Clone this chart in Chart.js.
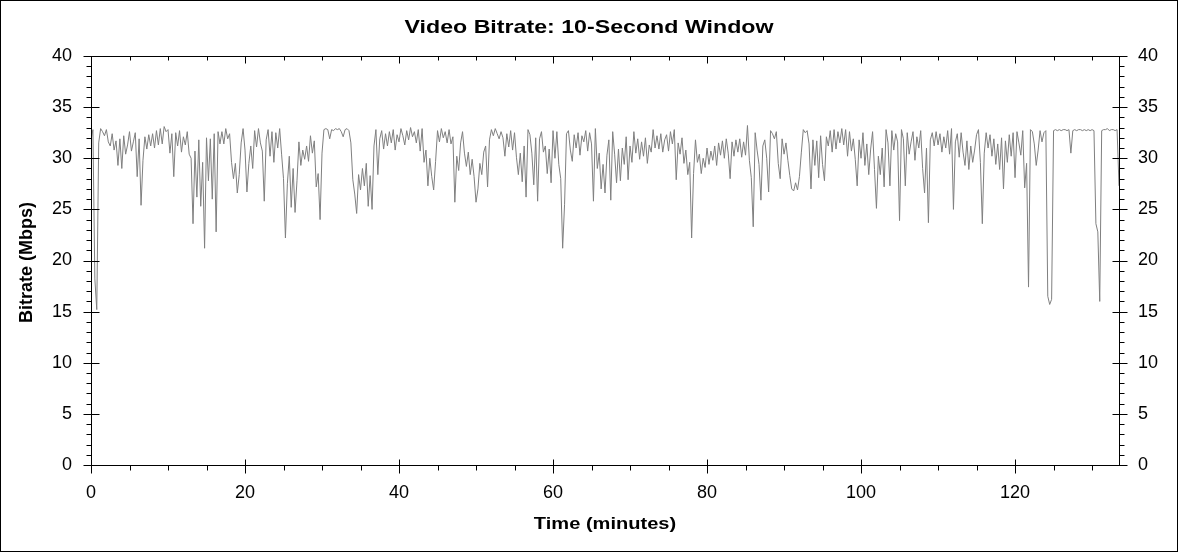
<!DOCTYPE html>
<html>
<head>
<meta charset="utf-8">
<script src="https://cdn.jsdelivr.net/npm/chart.js@4"></script>
<style>
  body { margin: 0; background: #fff; }
  #wrap { width: 1178px; height: 552px; }
</style>
</head>
<body>
<div id="wrap"><canvas id="chart"></canvas></div>
<script>
const chartTitle = "Video Bitrate: 10-Second Window"
const xTitle = "Time (minutes)"
const yTitle = "Bitrate (Mbps)"

// one reading every 0.25 minutes, starting at 0
const stepMinutes = 0.25
const bitrate = [
  31.8, 32.8, 18.2, 15.2,  31.5, 32.9, 32.6, 32.2,  32.8, 31.6, 31.2, 32.4,  30.8, 31.7, 29.3, 31.9,
  29.0, 32.2, 30.4, 31.3,  32.6, 30.7, 31.6, 32.5,  28.2, 31.9, 25.4, 29.8,  32.1, 30.9, 32.3, 31.2,
  32.4, 31.0, 32.7, 31.3,  32.9, 31.4, 33.1, 32.6,  32.8, 30.5, 32.4, 28.2,  32.5, 31.2, 32.7, 30.6,
  32.1, 31.3, 32.6, 30.4,  30.0, 23.6, 30.7, 26.2,  31.8, 25.3, 29.6, 21.2,  32.0, 27.8, 31.9, 26.0,
  32.4, 22.8, 32.6, 31.4,  32.6, 31.4, 32.9, 31.9,  32.4, 29.6, 28.0, 29.5,  26.6, 28.4, 31.5, 32.9,
  30.8, 26.7, 29.5, 31.2,  29.0, 32.7, 31.1, 32.9,  31.5, 30.7, 25.8, 31.8,  32.8, 30.2, 32.6, 29.6,
  32.5, 31.0, 32.9, 30.4,  28.0, 22.2, 27.5, 30.2,  25.2, 29.0, 24.7, 27.8,  31.6, 29.3, 30.8, 29.9,
  31.2, 29.7, 32.2, 30.5,  31.7, 27.2, 28.5, 24.0,  30.5, 32.8, 32.9, 32.8,  31.9, 32.8, 32.7, 32.9,
  32.8, 32.9, 32.6, 32.1,  32.8, 32.9, 32.7, 31.5,  27.9, 26.5, 24.6, 28.4,  26.9, 29.0, 27.3, 29.5,
  25.3, 28.3, 25.0, 31.2,  32.8, 28.4, 31.9, 32.7,  30.9, 32.4, 31.2, 32.6,  31.5, 32.8, 30.8, 32.3,
  31.6, 32.9, 32.2, 31.3,  32.7, 31.8, 33.0, 32.1,  32.6, 31.5, 32.8, 30.7,  32.9, 29.6, 30.8, 27.3,
  30.0, 28.2, 26.9, 29.7,  32.7, 31.6, 32.9, 32.0,  32.6, 31.5, 32.8, 31.4,  32.1, 25.7, 30.2, 28.8,
  31.5, 32.6, 30.5, 29.2,  30.6, 28.4, 29.9, 28.2,  25.7, 27.0, 29.5, 28.4,  30.6, 31.2, 27.2, 31.8,
  32.8, 32.2, 32.9, 32.4,  31.9, 32.6, 32.0, 30.2,  32.4, 31.1, 32.7, 30.8,  32.5, 30.1, 28.4, 30.5,
  27.7, 31.2, 26.2, 32.8,  32.3, 30.5, 27.4, 32.0,  25.8, 31.9, 32.6, 30.6,  31.2, 28.5, 30.9, 27.6,
  32.7, 30.0, 32.6, 29.4,  28.0, 21.2, 25.5, 32.4,  32.7, 30.8, 29.7, 32.3,  31.0, 32.5, 30.3, 32.2,
  31.6, 32.7, 30.7, 32.5,  31.4, 25.8, 32.9, 29.0,  30.5, 27.0, 29.4, 26.6,  30.3, 31.8, 25.9, 32.6,
  30.4, 27.6, 30.9, 27.8,  31.0, 29.4, 32.1, 27.9,  31.2, 29.6, 32.6, 30.5,  31.9, 29.9, 31.6, 30.2,
  32.0, 29.5, 31.3, 30.6,  32.8, 31.0, 32.2, 30.9,  32.4, 30.6, 31.8, 32.3,  30.7, 32.6, 31.4, 32.8,
  27.9, 31.5, 30.4, 32.0,  29.5, 30.8, 28.4, 29.6,  22.2, 28.5, 31.8, 29.6,  30.4, 28.5, 30.0, 29.1,
  31.0, 29.4, 30.7, 29.8,  31.2, 29.3, 31.5, 30.3,  31.7, 30.0, 31.9, 30.5,  28.0, 31.6, 30.2, 31.8,
  30.6, 31.9, 30.1, 31.6,  30.3, 33.2, 29.8, 28.1,  23.3, 32.5, 30.8, 29.4,  25.9, 31.2, 31.8, 30.0,
  26.7, 32.7, 32.4, 31.9,  32.6, 29.5, 28.0, 31.9,  30.4, 31.5, 29.8, 28.3,  27.0, 26.8, 27.6, 26.9,
  28.2, 30.6, 32.8, 32.5,  32.7, 31.4, 27.0, 31.8,  29.3, 31.7, 28.1, 32.2,  29.4, 27.8, 32.1, 31.2,
  32.7, 30.6, 32.8, 30.9,  32.6, 31.5, 32.9, 31.3,  32.8, 30.2, 32.6, 30.7,  31.9, 29.9, 27.3, 31.8,
  30.0, 32.5, 29.3, 31.4,  28.4, 30.9, 32.6, 28.9,  25.1, 30.2, 28.4, 31.0,  27.2, 32.8, 31.5, 27.3,
  32.7, 30.8, 32.4, 31.6,  23.9, 32.8, 31.9, 27.3,  32.5, 30.4, 31.6, 32.6,  29.8, 32.1, 31.0, 32.7,
  29.0, 26.6, 31.0, 23.7,  31.8, 32.5, 31.2, 32.6,  31.3, 32.4, 30.6, 32.1,  31.0, 32.7, 30.4, 32.9,
  25.0, 31.6, 32.4, 30.1,  32.5, 30.6, 29.3, 31.7,  28.9, 31.2, 29.6, 30.8,  32.3, 32.8, 29.6, 23.6,
  30.5, 32.5, 31.0, 32.3,  30.2, 31.9, 29.4, 31.4,  28.9, 32.0, 27.0, 31.7,  29.6, 32.3, 30.2, 32.5,
  28.1, 32.6, 31.5, 30.3,  32.7, 27.1, 29.5, 17.4,  32.8, 32.6, 31.4, 29.3,  30.8, 32.7, 31.6, 32.5,
  32.7, 16.5, 15.7, 16.2,  32.7, 32.8, 32.7, 32.8,  32.7, 32.8, 32.8, 32.7,  32.8, 30.5, 32.7, 32.8,
  32.7, 32.8, 32.8, 32.7,  32.8, 32.7, 32.8, 32.7,  32.8, 32.7, 23.6, 22.8,  16.0, 32.7, 32.8, 32.8,
  32.9, 32.7, 32.8, 32.8,  32.7, 32.8, 27.3
]

const xMax = 133.5
const yMax = 40

let points = bitrate.map((v, i) => ({ x: i * stepMinutes, y: v }))

function stretchText(ctx, text, x, y, sx) {
  ctx.save()
  ctx.translate(x, y)
  ctx.scale(sx, 1)
  ctx.fillText(text, 0, 0)
  ctx.restore()
}

// white page, outer border, plot frame, ticks and titles
const decor = {
  id: 'decor',
  beforeDraw(chart) {
    let ctx = chart.ctx
    ctx.save()
    ctx.fillStyle = '#fff'
    ctx.fillRect(0, 0, chart.width, chart.height)
    ctx.restore()
  },
  afterDatasetsDraw(chart) {
    let ctx = chart.ctx
    let ca = chart.chartArea
    let xs = chart.scales.x
    let ys = chart.scales.y
    let L = Math.round(ca.left) + 0.5
    let R = Math.round(ca.right) + 0.5
    let T = Math.round(ca.top) + 0.5
    let B = Math.round(ca.bottom) + 0.5
    ctx.save()
    ctx.strokeStyle = '#000'
    ctx.lineWidth = 1
    ctx.strokeRect(0.5, 0.5, chart.width - 1, chart.height - 1)
    ctx.strokeRect(L, T, R - L, B - T)
    ctx.beginPath()
    for (let v = 0; v <= yMax; v++) {
      let py = Math.round(ys.getPixelForValue(v)) + 0.5
      if (v % 5 === 0) {
        ctx.moveTo(L - 8, py); ctx.lineTo(L + 8, py)
        ctx.moveTo(R - 7, py); ctx.lineTo(R + 8, py)
      } else {
        ctx.moveTo(L - 5, py); ctx.lineTo(L, py)
        ctx.moveTo(R, py); ctx.lineTo(R + 5, py)
      }
    }
    for (let v = 0; v <= xMax; v += 5) {
      let px = Math.round(xs.getPixelForValue(v)) + 0.5
      if (v % 20 === 0) {
        ctx.moveTo(px, B - 6); ctx.lineTo(px, B + 8)
        ctx.moveTo(px, T); ctx.lineTo(px, T + 7)
      } else {
        ctx.moveTo(px, B); ctx.lineTo(px, B + 5)
        ctx.moveTo(px, T); ctx.lineTo(px, T + 4)
      }
    }
    ctx.stroke()

    ctx.fillStyle = '#000'
    ctx.textAlign = 'center'
    ctx.textBaseline = 'middle'
    ctx.font = 'bold 19px "Liberation Sans", Arial, sans-serif'
    stretchText(ctx, chartTitle, chart.width / 2, 28, 1.22)
    ctx.font = 'bold 17px "Liberation Sans", Arial, sans-serif'
    stretchText(ctx, xTitle, (ca.left + ca.right) / 2, 524, 1.18)
    ctx.font = 'bold 18px "Liberation Sans", Arial, sans-serif'
    ctx.translate(27, (ca.top + ca.bottom) / 2 + 2)
    ctx.rotate(-Math.PI / 2)
    ctx.fillText(yTitle, 0, 0)
    ctx.restore()
  }
}

const tickFont = { family: '"Liberation Sans", Arial, sans-serif', size: 18 }

let ctx = document.getElementById('chart').getContext('2d')
let myChart = new Chart(ctx, {
  type: 'line',
  data: {
    datasets: [{
      data: points,
      borderColor: '#808080',
      borderWidth: 1,
      pointRadius: 0,
      tension: 0,
      fill: false
    }]
  },
  options: {
    responsive: true,
    maintainAspectRatio: false,
    devicePixelRatio: 1,
    animation: false,
    events: [],
    layout: { padding: { top: 56, left: 0, right: 0, bottom: 0 } },
    plugins: {
      legend: { display: false },
      title: { display: false },
      tooltip: { enabled: false }
    },
    scales: {
      x: {
        type: 'linear',
        min: 0,
        max: xMax,
        grid: { display: false, drawTicks: false },
        border: { display: false },
        ticks: { stepSize: 20, color: '#000', font: tickFont, padding: 17, maxRotation: 0 },
        afterBuildTicks: s => { s.ticks = s.ticks.filter(t => t.value % 20 === 0) },
        afterFit: s => { s.height = 87 }
      },
      y: {
        position: 'left',
        min: 0,
        max: yMax,
        grid: { display: false, drawTicks: false },
        border: { display: false },
        ticks: { stepSize: 5, color: '#000', font: tickFont, padding: 19 },
        afterFit: s => { s.width = 91 }
      },
      y2: {
        position: 'right',
        min: 0,
        max: yMax,
        grid: { display: false, drawTicks: false },
        border: { display: false },
        ticks: { stepSize: 5, color: '#000', font: tickFont, padding: 19 },
        afterFit: s => { s.width = 59 }
      }
    }
  },
  plugins: [decor]
})
</script>
</body>
</html>
